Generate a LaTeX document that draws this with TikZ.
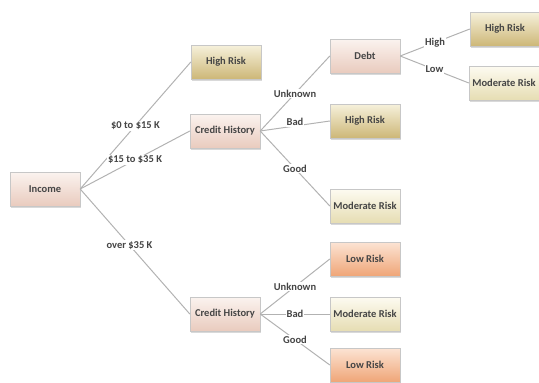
\documentclass[tikz,border=0pt]{standalone}
\usepackage{fontspec}
\setmainfont{Carlito}
\usetikzlibrary{shadows}

\definecolor{pinktop}{HTML}{FBF3EF}
\definecolor{pinkbot}{HTML}{E9CBBE}
\definecolor{goldtop}{HTML}{F6F1DC}
\definecolor{goldbot}{HTML}{CDB777}
\definecolor{creamtop}{HTML}{FDFBF1}
\definecolor{creambot}{HTML}{E6DDB3}
\definecolor{orangetop}{HTML}{FCE4D4}
\definecolor{orangebot}{HTML}{EFA577}
\definecolor{txtgray}{HTML}{454545}

\begin{document}
\begin{tikzpicture}[x = 1pt, y = -1pt,
	box/.style = {draw = black!22, minimum width = 70pt, minimum height = 34pt, inner sep = 1pt,
		font = \fontsize{10.5}{12}\selectfont\bfseries, text = txtgray,
		drop shadow = {shadow xshift = 1.2pt, shadow yshift = -1.5pt, fill = black!25, opacity = 0.6}},
	attrbox/.style = {box, top color = pinktop, bottom color = pinkbot},
	highbox/.style = {box, top color = goldtop, bottom color = goldbot},
	modbox/.style = {box, top color = creamtop, bottom color = creambot},
	lowbox/.style = {box, top color = orangetop, bottom color = orangebot},
	branch/.style = {draw = black!30, line width = 1pt},
	choice/.style = {fill = white, inner sep = 1pt, font = \fontsize{10.5}{12}\selectfont\bfseries, text = txtgray}]
	 \useasboundingbox (0, 0) rectangle (539, 383);
	 
	 % attribute nodes
	 \node[attrbox] (income) at (45, 189) {Income};
	 \node[attrbox] (credA) at (225, 131) {Credit History};
	 \node[attrbox] (credB) at (225, 314) {Credit History};
	 \node[attrbox] (debt) at (365, 56) {Debt};
	 
	 % leaves
	 \node[highbox] (highA) at (226, 62) {High Risk};
	 \node[highbox] (highB) at (365, 121) {High Risk};
	 \node[highbox] (highC) at (505, 29) {High Risk};
	 \node[modbox] (modA) at (365, 206) {Moderate Risk};
	 \node[modbox] (modB) at (504, 83) {Moderate Risk};
	 \node[modbox] (modC) at (365, 314) {Moderate Risk};
	 \node[lowbox] (lowA) at (365, 259) {Low Risk};
	 \node[lowbox] (lowB) at (365, 365) {Low Risk};
	 
	 % branches
	 \draw[branch] (income.east) -- (highA.west) node[choice, midway] {\$0 to \$15 K};
	 \draw[branch] (income.east) -- (credA.west) node[choice, midway] {\$15 to \$35 K};
	 \draw[branch] (income.east) -- (credB.west) node[choice, pos = 0.45] {over \$35 K};
	 
	 \draw[branch] (credA.east) -- (debt.west) node[choice, midway] {Unknown};
	 \draw[branch] (credA.east) -- (highB.west) node[choice, midway, yshift = 4pt] {Bad};
	 \draw[branch] (credA.east) -- (modA.west) node[choice, midway] {Good};
	 
	 \draw[branch] (debt.east) -- (highC.west) node[choice, midway] {High};
	 \draw[branch] (debt.east) -- (modB.west) node[choice, midway] {Low};
	 
	 \draw[branch] (credB.east) -- (lowA.west) node[choice, midway] {Unknown};
	 \draw[branch] (credB.east) -- (modC.west) node[choice, midway] {Bad};
	 \draw[branch] (credB.east) -- (lowB.west) node[choice, midway] {Good};
\end{tikzpicture}
\end{document}
